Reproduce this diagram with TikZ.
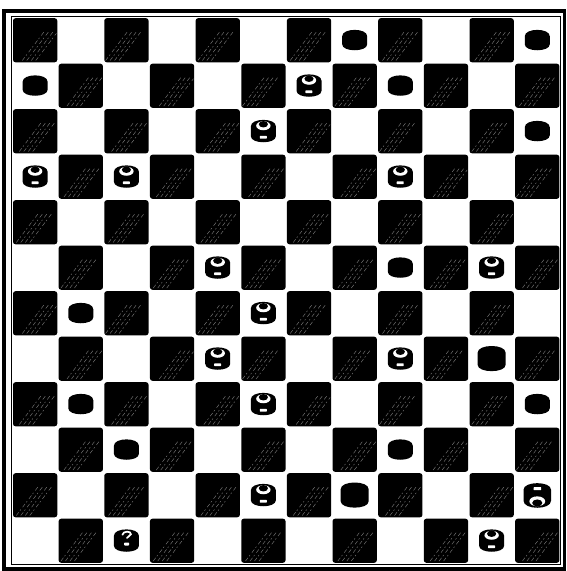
\documentclass[tikz,border=0pt]{standalone}
\tikzset{
  pcb/.pic={\fill (-12.5,-4) .. controls (-12.5,-12.5) and (12.5,-12.5) .. (12.5,-4) -- (12.5,4) .. controls (12.5,12) and (-12.5,12) .. (-12.5,4) -- cycle;},
  pcw/.pic={\fill (-12.5,-5) .. controls (-12.5,-13.5) and (12.5,-13.5) .. (12.5,-5) -- (12.5,5) .. controls (12.5,13) and (-12.5,13) .. (-12.5,5) -- cycle;
    \fill[white] (0,-5.5) ellipse [x radius=7.2, y radius=4.5];
    \fill (0,-7) ellipse [x radius=4.6, y radius=3.2];
    \fill[white,rounded corners=0.6] (-3.6,4.6) rectangle (3.4,7.4);},
  pcq/.pic={\fill (-12.5,-5) .. controls (-12.5,-13.5) and (12.5,-13.5) .. (12.5,-5) -- (12.5,5) .. controls (12.5,13) and (-12.5,13) .. (-12.5,5) -- cycle;
    \draw[white,line width=1.7pt,line cap=round] (-4,-6) .. controls (-3.5,-10) and (5,-10) .. (4.5,-6.5) .. controls (4,-4) and (0.5,-4.5) .. (0.5,-2.8);
    \fill[white,rounded corners=0.6] (-2.2,1.8) rectangle (2.6,4.8);},
  pck/.pic={\fill (-14,-6) .. controls (-14,-15) and (14,-15) .. (14,-6) -- (14,6) .. controls (14,14.5) and (-14,14.5) .. (-14,6) -- cycle;},
  hatch/.style={white,line width=0.4pt,opacity=0.5,dash pattern=on 4pt off 2pt on 1.5pt off 3pt}
}
\begin{document}
\begin{tikzpicture}[x=1pt,y=-1pt]
\useasboundingbox (0,0) rectangle (566,571);
\fill[white] (0,0) rectangle (566,571);
% frame
\draw[line width=3.5pt] (4,11) rectangle (564.5,569);
\draw[line width=1pt] (11,16) rectangle (560.7,564.5);
% dark squares
\foreach \i in {1,...,12}{\foreach \j in {1,...,12}{
  \pgfmathparse{int(mod(\i+\j,2))}
  \ifnum\pgfmathresult=0
    \pgfmathsetmacro\xa{12.3+(\i-1)*45.65}
    \pgfmathsetmacro\ya{17.5+(\j-1)*45.5}
    \pgfmathsetmacro\off{mod(\i*5+\j*3,9)}
    \begin{scope}[shift={(\xa,\ya)}]
      \fill[rounded corners=2.5pt] (0.7,0.7) rectangle (44.95,44.8);
      \begin{scope}
        \clip (1.5,1.5) rectangle (44,44);
        \foreach \k in {0,...,3}{
          \draw[hatch] ({\off+2+4.5*\k},43) -- ({\off+24+4.5*\k},14);
        }
      \end{scope}
    \end{scope}
  \fi
}}
% pieces
\foreach \c/\r in {8/1,12/1,1/2,9/2,12/3,9/6,2/7,2/9,12/9,3/10,9/10}
  \pic at ({12.3+(\c-0.5)*45.65},{17.5+(\r-0.5)*45.5}) {pcb};
\foreach \c/\r in {7/2,6/3,1/4,3/4,9/4,5/6,11/6,6/7,5/8,9/8,6/9,6/11,11/12}
  \pic at ({12.3+(\c-0.5)*45.65},{17.5+(\r-0.5)*45.5}) {pcw};
\foreach \c/\r in {11/8,8/11}
  \pic at ({12.3+(\c-0.5)*45.65},{17.5+(\r-0.5)*45.5}) {pck};
\pic[rotate=180,scale=1.1] at ({12.3+(12-0.5)*45.65},{17.5+(11-0.5)*45.5}) {pcw};
\pic at ({12.3+(3-0.5)*45.65},{17.5+(12-0.5)*45.5}) {pcq};
\end{tikzpicture}
\end{document}
